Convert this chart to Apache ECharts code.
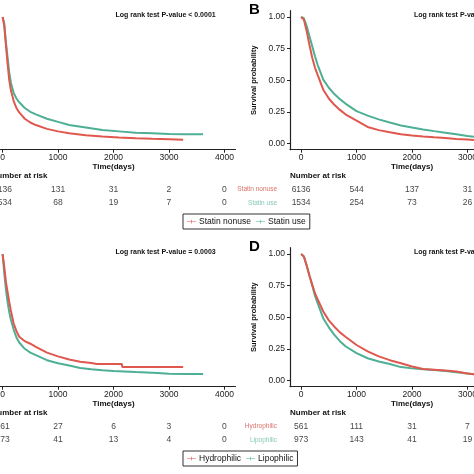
<!DOCTYPE html>
<html><head><meta charset="utf-8">
<script src="https://cdn.jsdelivr.net/npm/echarts@6/dist/echarts.min.js"></script>
<style>html,body{margin:0;padding:0;background:#fff}#c{width:474px;height:474px}</style>
</head><body><div id="c"></div>
<script>
const FONT = '"Liberation Sans", Arial, Helvetica, sans-serif';
const RED = '#E0574E', TEAL = '#4DAF94';
const RED_L = '#D9726B', TEAL_L = '#86C7B7';

const timeTicks = [0, 1000, 2000, 3000, 4000];
const probTicks = [0, 0.25, 0.5, 0.75, 1];
const riskTimes = [0, 1000, 2000, 3000, 4000];

// ---- Panel A (statin nonuse vs use) ----
const aTimeNonuse = [0, 30, 60, 90, 120, 150, 200, 250, 300, 400, 500, 600, 800, 1000, 1200, 1500, 1800, 2100, 2400, 2700, 3000, 3256];
const aSurvNonuse = [1.0, 0.93, 0.78, 0.63, 0.50, 0.42, 0.335, 0.28, 0.245, 0.195, 0.165, 0.145, 0.115, 0.095, 0.08, 0.065, 0.054, 0.047, 0.041, 0.036, 0.032, 0.028];
const aTimeUse = [0, 30, 60, 90, 120, 150, 200, 250, 300, 400, 500, 600, 800, 1000, 1200, 1500, 1800, 2100, 2400, 2700, 3000, 3300, 3616];
const aSurvUse = [1.0, 0.95, 0.80, 0.68, 0.56, 0.48, 0.40, 0.355, 0.325, 0.28, 0.25, 0.23, 0.195, 0.17, 0.145, 0.125, 0.105, 0.095, 0.085, 0.08, 0.075, 0.073, 0.072];
const aRiskNonuse = [6136, 131, 31, 2, 0];
const aRiskUse = [1534, 68, 19, 7, 0];

// ---- Panel B (statin nonuse vs use) ----
const bTimeNonuse = [0, 50, 100, 150, 200, 250, 300, 400, 500, 600, 700, 800, 1000, 1200, 1400, 1600, 1800, 2000, 2200, 2400, 2600, 2800, 3000, 3200, 3400];
const bSurvNonuse = [1.0, 0.98, 0.89, 0.78, 0.68, 0.60, 0.54, 0.425, 0.355, 0.305, 0.265, 0.23, 0.18, 0.13, 0.105, 0.088, 0.072, 0.063, 0.055, 0.048, 0.042, 0.035, 0.03, 0.025, 0.022];
const bTimeUse = [0, 50, 100, 150, 200, 250, 300, 400, 500, 600, 700, 800, 1000, 1200, 1400, 1600, 1800, 2000, 2200, 2400, 2600, 2800, 3000, 3200, 3400, 3600];
const bSurvUse = [1.0, 0.99, 0.93, 0.85, 0.77, 0.69, 0.62, 0.505, 0.44, 0.39, 0.35, 0.315, 0.255, 0.22, 0.19, 0.165, 0.142, 0.125, 0.11, 0.097, 0.085, 0.072, 0.058, 0.048, 0.04, 0.03];
const bRiskNonuse = [6136, 544, 137, 31, 0];
const bRiskUse = [1534, 254, 73, 26, 0];

// ---- Panel C (hydrophilic vs lipophilic) ----
const cTimeHydro = [0, 30, 60, 90, 120, 150, 200, 250, 300, 400, 500, 600, 800, 1000, 1200, 1400, 1600, 1700, 2150, 2160, 2600, 3000, 3256];
const cSurvHydro = [1.0, 0.90, 0.78, 0.70, 0.62, 0.55, 0.45, 0.39, 0.345, 0.31, 0.29, 0.265, 0.22, 0.19, 0.165, 0.148, 0.138, 0.13, 0.13, 0.105, 0.105, 0.105, 0.105];
const cTimeLipo = [0, 30, 60, 90, 120, 150, 200, 250, 300, 400, 500, 600, 800, 1000, 1200, 1400, 1600, 1800, 2000, 2400, 2800, 3000, 3300, 3616];
const cSurvLipo = [1.0, 0.85, 0.72, 0.62, 0.54, 0.48, 0.40, 0.34, 0.30, 0.25, 0.22, 0.20, 0.16, 0.135, 0.118, 0.098, 0.088, 0.08, 0.075, 0.066, 0.058, 0.053, 0.05, 0.05];
const cRiskHydro = [561, 27, 6, 3, 0];
const cRiskLipo = [973, 41, 13, 4, 0];

// ---- Panel D (hydrophilic vs lipophilic) ----
const dTimeHydro = [0, 50, 100, 150, 200, 250, 300, 400, 500, 600, 700, 800, 1000, 1200, 1400, 1600, 1800, 2000, 2200, 2400, 2600, 2800, 3000, 3200, 3400];
const dSurvHydro = [1.0, 0.98, 0.91, 0.83, 0.76, 0.69, 0.64, 0.545, 0.475, 0.425, 0.38, 0.345, 0.28, 0.23, 0.19, 0.16, 0.135, 0.11, 0.09, 0.085, 0.078, 0.07, 0.055, 0.045, 0.04];
const dTimeLipo = [0, 50, 100, 150, 200, 250, 300, 400, 500, 600, 700, 800, 1000, 1200, 1400, 1600, 1800, 2000, 2200, 2400, 2600, 2800, 3000, 3200, 3400];
const dSurvLipo = [1.0, 0.98, 0.91, 0.83, 0.75, 0.67, 0.61, 0.49, 0.42, 0.36, 0.31, 0.27, 0.215, 0.175, 0.15, 0.13, 0.105, 0.095, 0.088, 0.082, 0.075, 0.065, 0.055, 0.045, 0.04];
const dRiskHydro = [561, 111, 31, 7, 0];
const dRiskLipo = [973, 143, 41, 19, 0];

const groupsAB = ['Statin nonuse', 'Statin use'];
const groupsCD = ['Hydrophilic', 'Lipophilic'];
const pvalues = ['Log rank test P-value < 0.0001', 'Log rank test P-value < 0.0001', 'Log rank test P-value = 0.0003', 'Log rank test P-value = 0.0003'];
const letters = ['A', 'B', 'C', 'D'];

const panels = [
  {groups: groupsAB, t1: aTimeNonuse, s1: aSurvNonuse, t2: aTimeUse, s2: aSurvUse, r1: aRiskNonuse, r2: aRiskUse},
  {groups: groupsAB, t1: bTimeNonuse, s1: bSurvNonuse, t2: bTimeUse, s2: bSurvUse, r1: bRiskNonuse, r2: bRiskUse},
  {groups: groupsCD, t1: cTimeHydro, s1: cSurvHydro, t2: cTimeLipo, s2: cSurvLipo, r1: cRiskHydro, r2: cRiskLipo},
  {groups: groupsCD, t1: dTimeHydro, s1: dSurvHydro, t2: dTimeLipo, s2: dSurvLipo, r1: dRiskHydro, r2: dRiskLipo}
];

// layout (pixels)
const colLeft = [-8.5, 290];
const rowTop = [10.7, 247.7];
const riskTop = [182.5, 419.5];
const PW = 244, PH = 139;

const grid = [], xAxis = [], yAxis = [], series = [], title = [];
const axisCol = '#222';

panels.forEach((p, i) => {
  const col = i % 2, row = Math.floor(i / 2);
  const L = colLeft[col];
  grid.push({left: L, top: rowTop[row], width: PW, height: PH, containLabel: false, outerBoundsMode: 'none'});
  const gi = grid.length - 1;
  xAxis.push({
    gridIndex: gi, type: 'value', min: -200, max: 4200,
    name: 'Time(days)', nameLocation: 'middle', nameGap: 13,
    nameTextStyle: {fontFamily: FONT, fontSize: 8, fontWeight: 'bold', color: '#111'},
    splitLine: {show: false},
    axisLine: {show: true, onZero: false, lineStyle: {color: axisCol, width: 1.2}},
    axisTick: {show: true, length: 3, customValues: timeTicks, lineStyle: {color: axisCol}},
    axisLabel: {customValues: timeTicks, margin: 3, fontFamily: FONT, fontSize: 8.5, color: '#222',
      formatter: v => String(v), hideOverlap: false}
  });
  yAxis.push({
    gridIndex: gi, type: 'value', min: -0.05, max: 1.05,
    name: 'Survival probability', nameLocation: 'middle', nameGap: 29,
    nameTextStyle: {fontFamily: FONT, fontSize: 7.5, fontWeight: 'bold', color: '#111'},
    splitLine: {show: false},
    axisLine: {show: true, onZero: false, lineStyle: {color: axisCol, width: 1.2}},
    axisTick: {show: true, length: 3, customValues: probTicks, lineStyle: {color: axisCol}},
    axisLabel: {customValues: probTicks, margin: 5, fontFamily: FONT, fontSize: 8.5, color: '#222',
      formatter: v => v.toFixed(2)}
  });
  const mk = (t, s) => t.map((x, k) => [x, s[k]]);
  series.push({
    name: p.groups[0], type: 'line', xAxisIndex: gi, yAxisIndex: gi,
    showSymbol: false, data: mk(p.t1, p.s1), color: RED,
    lineStyle: {color: RED, width: 2}, z: 3
  });
  series.push({
    name: p.groups[1], type: 'line', xAxisIndex: gi, yAxisIndex: gi,
    showSymbol: false, data: mk(p.t2, p.s2), color: TEAL,
    lineStyle: {color: TEAL, width: 2}, z: 2
  });

  grid.push({left: L, top: riskTop[row], width: PW, height: 27, containLabel: false, outerBoundsMode: 'none'});
  const ri = grid.length - 1;
  xAxis.push({gridIndex: ri, type: 'value', min: -200, max: 4200, show: false});
  yAxis.push({
    gridIndex: ri, type: 'category', inverse: true, data: p.groups,
    axisLine: {show: false}, axisTick: {show: false}, splitLine: {show: false},
    axisLabel: {margin: 13, fontFamily: FONT, fontSize: 6.5,
      formatter: (v, idx) => (idx === 0 ? '{a|' : '{b|') + v + '}',
      rich: {a: {color: RED_L, fontFamily: FONT, fontSize: 6.5}, b: {color: TEAL_L, fontFamily: FONT, fontSize: 6.5}}}
  });
  [p.r1, p.r2].forEach((r, k) => {
    series.push({
      name: 'risk-' + i + '-' + k, type: 'scatter', xAxisIndex: ri, yAxisIndex: ri,
      symbolSize: 1, itemStyle: {color: 'rgba(0,0,0,0)'}, silent: true,
      data: riskTimes.map((t, m) => [t, p.groups[k], r[m]]),
      label: {show: true, position: 'inside', formatter: q => String(q.value[2]),
        fontFamily: FONT, fontSize: 8.5, color: '#111'},
      labelLayout: {hideOverlap: false}
    });
  });

  title.push({text: letters[i], left: L - 41, top: rowTop[row] - 8, padding: 0,
    textStyle: {fontFamily: FONT, fontSize: 15, fontWeight: 'bold', color: '#000'}});
  title.push({text: pvalues[i], left: L + 124, top: rowTop[row] + 0.5, padding: 0,
    textStyle: {fontFamily: FONT, fontSize: 7, fontWeight: 'bold', color: '#111'}});
  title.push({text: 'Number at risk', left: L, top: riskTop[row] - 10.5, padding: 0,
    textStyle: {fontFamily: FONT, fontSize: 8, fontWeight: 'bold', color: '#111'}});
});

const legendCommon = {
  left: 183, orient: 'horizontal', padding: [3, 4], itemGap: 5, itemWidth: 9, itemHeight: 6,
  borderColor: '#333', borderWidth: 1, borderRadius: 0,
  icon: 'path://M0,2.6H12V3.4H0Z M5.6,0.5H6.4V5.5H5.6Z',
  textStyle: {fontFamily: FONT, fontSize: 8.5, color: '#111', padding: [0, 0, 0, -2]}
};

const option = {
  animation: false,
  backgroundColor: '#fff',
  title,
  grid, xAxis, yAxis, series,
  legend: [
    Object.assign({}, legendCommon, {top: 214, data: groupsAB}),
    Object.assign({}, legendCommon, {top: 451, data: groupsCD})
  ]
};

const chart = echarts.init(document.getElementById('c'), null, {renderer: 'canvas'});
chart.setOption(option);
</script>
</body></html>
